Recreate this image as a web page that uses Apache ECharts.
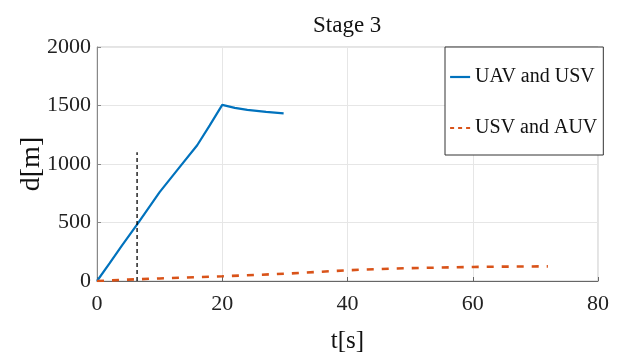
<!DOCTYPE html>
<html><head><meta charset="utf-8">
<script src="https://cdn.jsdelivr.net/npm/echarts@6/dist/echarts.min.js"></script>
<style>html,body{margin:0;padding:0;background:#fff}#c{width:618px;height:352px}</style>
</head><body><div id="c"></div>
<script>
const titleText = 'Stage 3';
const xName = 't[s]';
const yName = 'd[m]';
const xTicks = [0, 20, 40, 60, 80];
const yTicks = [0, 500, 1000, 1500, 2000];
const seriesNames = ['UAV and USV', 'USV and AUV'];
const uavT = [0, 2, 4, 6.5, 10, 13, 16, 18, 20, 22, 24, 27, 29.8];
const uavD = [0, 150, 305, 490, 760, 960, 1160, 1330, 1505, 1480, 1462, 1445, 1433];
const auvT = [0, 5, 10, 20, 30, 40, 45, 50, 55, 60, 65, 72];
const auvD = [0, 12, 22, 40, 62, 92, 102, 110, 115, 120, 123, 125];
const markT = [6.4, 6.4];
const markD = [0, 1100];

const zip = (a, b) => a.map((v, i) => [v, b[i]]);
const serif = 'Liberation Serif';
const chart = echarts.init(document.getElementById('c'));
chart.setOption({
  animation: false,
  title: { text: titleText, left: 313, top: 14, padding: 0,
    textStyle: { fontFamily: serif, fontSize: 23, fontWeight: 'normal', color: '#111' } },
  grid: { left: 97, right: 20, top: 47, bottom: 71, show: true, borderColor: '#c8c8c8', borderWidth: 1,
    containLabel: false, outerBoundsMode: 'none' },
  legend: {
    orient: 'vertical', left: 445, top: 47,
    data: [
      { name: seriesNames[0], lineStyle: { type: 'solid', width: 2.2 } },
      { name: seriesNames[1], lineStyle: { type: [4, 4], width: 2.2 } }
    ],
    itemStyle: { opacity: 0 },
    backgroundColor: '#fff', borderColor: '#333', borderWidth: 1,
    padding: [19, 6, 16, 4], itemGap: 29, itemWidth: 20, itemHeight: 14,
    textStyle: { fontFamily: serif, fontSize: 20, color: '#111', lineHeight: 22 }
  },
  xAxis: {
    type: 'value', min: xTicks[0], max: xTicks[xTicks.length - 1], interval: 20,
    name: xName, nameLocation: 'middle', nameGap: 48, nameMoveOverlap: false,
    nameTextStyle: { fontFamily: serif, fontSize: 25, color: '#111' },
    axisLine: { show: true, lineStyle: { color: '#666' } },
    axisTick: { show: true, inside: true, length: 4, lineStyle: { color: '#666' } },
    axisLabel: { fontFamily: serif, fontSize: 22, color: '#222', margin: 12, formatter: v => String(v) },
    splitLine: { show: true, lineStyle: { color: '#e6e6e6' } }
  },
  yAxis: {
    type: 'value', min: yTicks[0], max: yTicks[yTicks.length - 1], interval: 500,
    name: yName, nameLocation: 'middle', nameGap: 51, nameMoveOverlap: false,
    nameTextStyle: { fontFamily: serif, fontSize: 28, color: '#111' },
    axisLine: { show: true, lineStyle: { color: '#888' } },
    axisTick: { show: true, inside: true, length: 4, lineStyle: { color: '#888' } },
    axisLabel: { fontFamily: serif, fontSize: 22, color: '#222', margin: 6, formatter: v => String(v) },
    splitLine: { show: true, lineStyle: { color: '#e6e6e6' } }
  },
  series: [
    { name: seriesNames[0], type: 'line', data: zip(uavT, uavD), showSymbol: false, symbol: 'none',
      color: '#0072BD', lineStyle: { width: 2.2, color: '#0072BD' }, z: 3 },
    { name: seriesNames[1], type: 'line', data: zip(auvT, auvD), showSymbol: false, symbol: 'none',
      color: '#D95319', lineStyle: { width: 2.6, color: '#D95319', type: [7, 8] }, z: 3 },
    { name: 'marker', type: 'line', data: zip(markT, markD), showSymbol: false, symbol: 'none',
      color: '#000', lineStyle: { width: 1.3, color: '#000', type: [4, 3] }, z: 4 }
  ]
});
</script></body></html>
